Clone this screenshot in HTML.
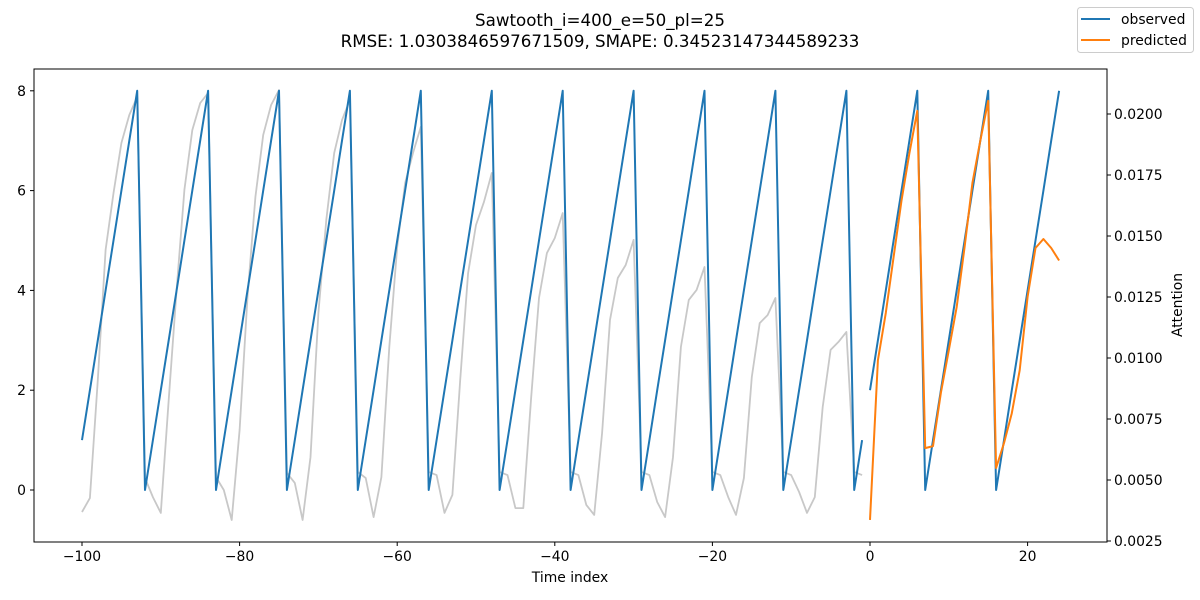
<!DOCTYPE html>
<html><head><meta charset="utf-8"><style>
html,body{margin:0;padding:0;background:#fff;}
svg{display:block;font-family:"DejaVu Sans","Liberation Sans",sans-serif;}
</style></head><body>
<svg id="chart" width="1200" height="600" viewBox="0 0 1200 600">
<text x="600" y="26" text-anchor="middle" font-size="16.7">Sawtooth_i=400_e=50_pl=25</text>
<text x="600" y="47" text-anchor="middle" font-size="16.7">RMSE: 1.0303846597671509, SMAPE: 0.34523147344589233</text>
<g id="marks"></g>
<rect x="34" y="69" width="1073" height="473" fill="none" stroke="#000" stroke-width="1"/>
<g id="axes"></g>
<text x="570" y="582" text-anchor="middle" font-size="13.9">Time index</text>
<text transform="translate(1182,305) rotate(-90)" text-anchor="middle" font-size="13.9">Attention</text>
<g>
<rect x="1077.5" y="7.5" width="116" height="45" rx="3" fill="#fff" stroke="#ccc"/>
<line x1="1081" y1="19" x2="1110" y2="19" stroke="#1f77b4" stroke-width="2"/>
<text x="1121" y="24" font-size="13.9">observed</text>
<line x1="1081" y1="40" x2="1110" y2="40" stroke="#ff7f0e" stroke-width="2"/>
<text x="1121" y="45" font-size="13.9">predicted</text>
</g>
</svg>
<script>
const histStart = -100;
const histValues = [1,2,3,4,5,6,7,8,0,1,2,3,4,5,6,7,8,0,1,2,3,4,5,6,7,8,0,1,2,3,4,5,6,7,8,0,1,2,3,4,5,6,7,8,0,1,2,3,4,5,6,7,8,0,1,2,3,4,5,6,7,8,0,1,2,3,4,5,6,7,8,0,1,2,3,4,5,6,7,8,0,1,2,3,4,5,6,7,8,0,1,2,3,4,5,6,7,8,0,1];
const futureValues = [2,3,4,5,6,7,8,0,1,2,3,4,5,6,7,8,0,1,2,3,4,5,6,7,8];
const predictedValues = [-0.6,2.6,3.55,4.67,5.8,6.75,7.6,0.84,0.88,1.95,2.8,3.67,4.87,6.15,7.0,7.8,0.44,0.94,1.54,2.4,3.87,4.85,5.03,4.85,4.6];
const attentionValues = [0.00369,0.00426,0.0091,0.01443,0.01676,0.01881,0.01996,0.0207,
0.00508,0.0043,0.00365,0.00828,0.01279,0.01689,0.01934,0.02045,0.02086,
0.00512,0.00459,0.00336,0.00705,0.0125,0.0166,0.01914,0.02037,0.02098,
0.00529,0.00488,0.00336,0.00594,0.01184,0.01566,0.0184,0.01975,0.02057,
0.00533,0.00508,0.00348,0.00512,0.01045,0.01455,0.01717,0.0184,0.01947,
0.00533,0.0052,0.00365,0.00439,0.0091,0.01348,0.01545,0.01639,0.01758,
0.00533,0.0052,0.00385,0.00385,0.0084,0.01246,0.0143,0.01492,0.01594,
0.00533,0.0052,0.00398,0.00357,0.00693,0.01156,0.01328,0.01381,0.01484,
0.00533,0.0052,0.0041,0.00348,0.00594,0.01045,0.01238,0.01279,0.01373,
0.00533,0.0052,0.0043,0.00357,0.00508,0.00922,0.01143,0.01176,0.01246,
0.00533,0.0052,0.00451,0.00365,0.0043,0.00799,0.01033,0.01066,0.01107,
0.00533,0.0052];
const xTicks = [-100,-80,-60,-40,-20,0,20];
const yTicks = [0,2,4,6,8];
const y2Ticks = [0.0025,0.0050,0.0075,0.0100,0.0125,0.0150,0.0175,0.0200];

const NS = "http://www.w3.org/2000/svg";
const X = t => 870 + t * 7.88;
const Y = v => 490 - v * 49.9;
const Y2 = a => 541 - (a - 0.0025) * 24400;
const marks = document.getElementById('marks');
const axes = document.getElementById('axes');

function poly(pts, color, w, name) {
  const p = document.createElementNS(NS, 'polyline');
  p.setAttribute('points', pts.map(q => q[0].toFixed(1) + ',' + q[1].toFixed(1)).join(' '));
  p.setAttribute('fill', 'none');
  p.setAttribute('stroke', color);
  p.setAttribute('stroke-width', w);
  p.setAttribute('stroke-linejoin', 'round');
  
  
  marks.appendChild(p);
}
poly(attentionValues.map((a, i) => [X(histStart + i), Y2(a)]), '#c8c8c8', 1.8, 'attention-line');
poly(histValues.map((v, i) => [X(histStart + i), Y(v)]), '#1f77b4', 2, 'observed-history-line');
poly(futureValues.map((v, i) => [X(i), Y(v)]), '#1f77b4', 2, 'observed-future-line');
poly(predictedValues.map((v, i) => [X(i), Y(v)]), '#ff7f0e', 2, 'predicted-line');

function line(x1, y1, x2, y2, name) {
  const l = document.createElementNS(NS, 'line');
  l.setAttribute('x1', x1); l.setAttribute('y1', y1); l.setAttribute('x2', x2); l.setAttribute('y2', y2);
  l.setAttribute('stroke', '#000'); l.setAttribute('stroke-width', '1');
  
  
  axes.appendChild(l);
}
function text(x, y, s, anchor, name) {
  const t = document.createElementNS(NS, 'text');
  t.setAttribute('x', x); t.setAttribute('y', y); t.setAttribute('text-anchor', anchor);
  t.setAttribute('font-size', '13.9');
  t.textContent = s;
  
  
  axes.appendChild(t);
}
xTicks.forEach(t => {
  const x = X(t);
  line(x, 542, x, 546, 'x-tick');
  text(x, 561, t < 0 ? '\u2212' + Math.abs(t) : String(t), 'middle', 'x-tick-label');
});
yTicks.forEach(v => {
  const y = Y(v);
  line(30, y, 34, y, 'y-tick');
  text(26, y + 5, String(v), 'end', 'y-tick-label');
});
y2Ticks.forEach(a => {
  const y = Y2(a);
  line(1107, y, 1111, y, 'y2-tick');
  text(1114, y + 5, a.toFixed(4), 'start', 'y2-tick-label');
});
</script>
</body></html>
